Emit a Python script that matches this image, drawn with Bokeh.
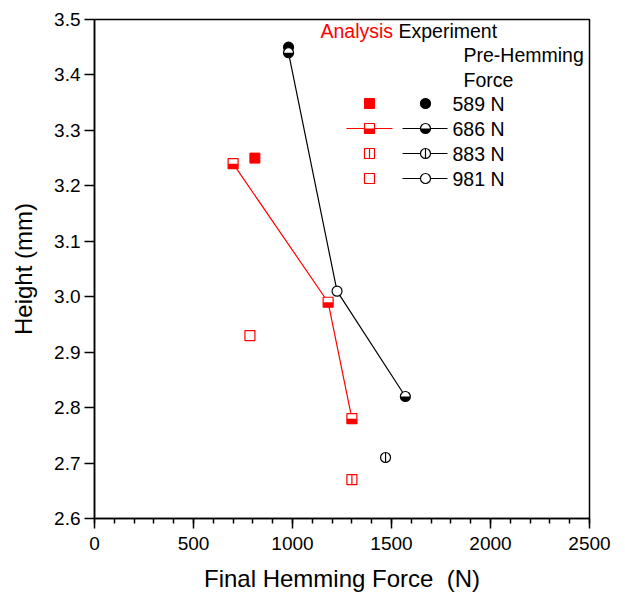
import math
from bokeh.plotting import figure
from bokeh.models import FixedTicker, PrintfTickFormatter, Label, Range1d
from bokeh.embed import file_html
from bokeh.resources import INLINE

# ---- data ----
series_labels = ["589 N", "686 N", "883 N", "981 N"]

ana_589_x = [810]
ana_589_y = [3.25]
ana_686_x = [700, 1180, 1300]
ana_686_y = [3.24, 2.99, 2.78]
ana_883_x = [1300]
ana_883_y = [2.67]
ana_981_x = [785]
ana_981_y = [2.93]

exp_589_x = [980]
exp_589_y = [3.45]
exp_686_x = [980, 1570]
exp_686_y = [3.44, 2.82]
exp_883_x = [1470]
exp_883_y = [2.71]
exp_981_x = [1225]
exp_981_y = [3.01]

x_ticks = [0, 500, 1000, 1500, 2000, 2500]
x_minor = [v for v in range(0, 2501, 100)]
y_ticks = [2.6, 2.7, 2.8, 2.9, 3.0, 3.1, 3.2, 3.3, 3.4, 3.5]

# ---- layout ----
X0, X1 = 0, 2500
Y0, Y1 = 2.6, 3.5
FW, FH = 495, 499
BL, BR, BT, BB = 94, 25, 19, 76
FRAME_LEFT = BL
FRAME_TOP = BT
DX = (X1 - X0) / FW   # data per px
DY = (Y1 - Y0) / FH

def sx(px):
    return X0 + (px - FRAME_LEFT) * DX

def sy(py):
    return Y1 - (py - FRAME_TOP) * DY

RED = "#ff0000"
FONT = "Liberation Sans"
MS = 10

p = figure(width=BL + FW + BR, height=BT + FH + BB, output_backend="svg",
           toolbar_location=None, x_range=Range1d(X0, X1), y_range=Range1d(Y0, Y1),
           min_border_left=BL, min_border_right=BR, min_border_top=BT, min_border_bottom=BB)
p.xgrid.visible = False
p.ygrid.visible = False
p.outline_line_color = "black"
p.outline_line_width = 1.5
p.outline_line_alpha = 1.0
p.background_fill_color = "white"
p.border_fill_color = "white"

p.xaxis.ticker = FixedTicker(ticks=x_ticks, minor_ticks=x_minor)
p.yaxis.ticker = FixedTicker(ticks=y_ticks, minor_ticks=[])
p.yaxis.formatter = PrintfTickFormatter(format="%.1f")
for ax in (p.xaxis, p.yaxis):
    ax.axis_line_width = 1.5
    ax.axis_line_color = "black"
    ax.major_tick_line_width = 1.5
    ax.major_tick_line_color = "black"
    ax.major_tick_in = 0
    ax.major_tick_out = 10
    ax.minor_tick_in = 0
    ax.minor_tick_out = 5
    ax.minor_tick_line_width = 1.5
    ax.minor_tick_line_color = "black"
    ax.major_label_text_font = FONT
    ax.major_label_text_font_size = "19px"
    ax.major_label_text_color = "black"
    ax.axis_label_text_font = FONT
    ax.axis_label_text_font_size = "24px"
    ax.axis_label_text_font_style = "normal"
    ax.axis_label_text_color = "black"
p.yaxis.minor_tick_line_color = None
p.xaxis.axis_label = "Final Hemming Force \u00a0(N)"
p.yaxis.axis_label = "Height (mm)"
p.xaxis.major_label_standoff = 8
p.yaxis.major_label_standoff = 4
p.xaxis.axis_label_standoff = 12
p.yaxis.axis_label_standoff = 14

# ---- connecting lines ----
p.line(ana_686_x, ana_686_y, line_color=RED, line_width=1.2)
exp_line = sorted(zip(exp_686_x + exp_981_x, exp_686_y + exp_981_y))
p.line([a for a, b in exp_line], [b for a, b in exp_line], line_color="black", line_width=1.2)

# ---- marker helpers ----
def full_square(xs, ys):
    p.scatter(xs, ys, marker="square", size=MS, fill_color=RED, line_color=RED, line_width=1)

def half_square(xs, ys):
    p.scatter(xs, ys, marker="square", size=MS, fill_color="white", line_color=RED, line_width=1.2)
    p.rect(xs, [y - 2.5 * DY for y in ys], width=MS, height=MS / 2,
           width_units="screen", height_units="screen", fill_color=RED, line_color=None)

def bar_square(xs, ys):
    p.scatter(xs, ys, marker="square", size=MS, fill_color="white", line_color=RED, line_width=1.2)
    p.scatter(xs, ys, marker="dash", angle=math.pi / 2, size=MS, line_color=RED, line_width=1.2)

def open_square(xs, ys):
    p.scatter(xs, ys, marker="square", size=MS, fill_color="white", line_color=RED, line_width=1.2)

def full_circle(xs, ys):
    p.scatter(xs, ys, marker="circle", size=MS, fill_color="black", line_color="black", line_width=1.2)

def half_circle(xs, ys):
    p.scatter(xs, ys, marker="circle", size=MS, fill_color="white", line_color="black", line_width=1.2)
    p.wedge(xs, ys, radius=MS / 2, radius_units="screen", start_angle=math.pi,
            end_angle=2 * math.pi, fill_color="black", line_color=None)

def bar_circle(xs, ys):
    p.scatter(xs, ys, marker="circle", size=MS, fill_color="white", line_color="black", line_width=1.2)
    p.scatter(xs, ys, marker="dash", angle=math.pi / 2, size=MS, line_color="black", line_width=1.2)

def open_circle(xs, ys):
    p.scatter(xs, ys, marker="circle", size=MS, fill_color="white", line_color="black", line_width=1.2)

# ---- data markers ----
full_square(ana_589_x, ana_589_y)
half_square(ana_686_x, ana_686_y)
bar_square(ana_883_x, ana_883_y)
open_square(ana_981_x, ana_981_y)

full_circle(exp_589_x, exp_589_y)
half_circle(exp_686_x, exp_686_y)
bar_circle(exp_883_x, exp_883_y)
open_circle(exp_981_x, exp_981_y)

# ---- legend ----
def label(text, px, py, color="black"):
    p.add_layout(Label(x=sx(px), y=sy(py), text=text, text_font=FONT, text_font_size="19.5px",
                       text_color=color, text_baseline="middle", text_align="left"))

label("Analysis", 320, 30, RED)
label("Experiment", 398, 30)
label("Pre-Hemming", 463, 54)
label("Force", 463, 79)

row_y = [103, 128, 153, 178]
ana_funcs = [full_square, half_square, bar_square, open_square]
exp_funcs = [full_circle, half_circle, bar_circle, open_circle]
for i, name in enumerate(series_labels):
    yy = sy(row_y[i])
    if i == 1:
        p.line([sx(346), sx(392)], [yy, yy], line_color=RED, line_width=1.2)
    if i >= 1:
        p.line([sx(402), sx(447)], [yy, yy], line_color="black", line_width=1.2)
    ana_funcs[i]([sx(369)], [yy])
    exp_funcs[i]([sx(425)], [yy])
    label(name, 452, row_y[i])

open("out.html", "w").write(file_html(p, INLINE))
